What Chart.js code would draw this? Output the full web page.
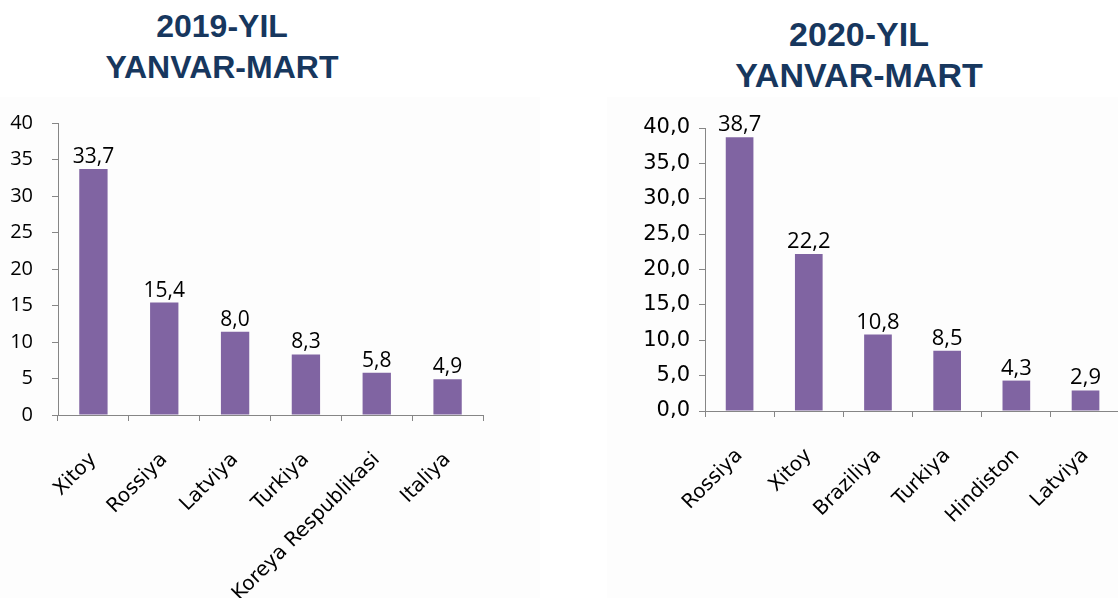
<!DOCTYPE html>
<html>
<head>
<meta charset="utf-8">
<script src="https://cdn.jsdelivr.net/npm/chart.js@4.4.1/dist/chart.umd.min.js"></script>
<style>
  html, body { margin: 0; padding: 0; background: #fff; }
  body { position: relative; width: 1118px; height: 598px; overflow: hidden; }
  .title {
    position: absolute;
    text-align: center;
    font-family: "Liberation Sans", Arial, sans-serif;
    font-weight: bold;
    color: #17375E;
  }
  #title1 { left: 0; width: 444px; top: 6px; font-size: 32px; line-height: 41px; }
  #title2 { left: 659px; width: 400px; top: 14px; font-size: 34px; line-height: 41px; }
  .panel { position: absolute; background: #fdfdfd; }
  canvas { position: absolute; }
</style>
</head>
<body>
<div class="panel" style="left:0;top:97px;width:540px;height:501px"></div>
<div class="panel" style="left:607px;top:97px;width:511px;height:501px"></div>
<div class="title" id="title1">2019-YIL<br>YANVAR-MART</div>
<div class="title" id="title2">2020-YIL<br>YANVAR-MART</div>
<canvas id="c2019" style="left:0;top:100px"></canvas>
<canvas id="c2020" style="left:600px;top:100px"></canvas>
<script>
// 2019 yanvar-mart
const countries2019 = ["Xitoy", "Rossiya", "Latviya", "Turkiya", "Koreya Respublikasi", "Italiya"];
const values2019 = [33.7, 15.4, 11.4, 8.3, 5.8, 4.9];   // bar heights as drawn
const labels2019 = ["33,7", "15,4", "8,0", "8,3", "5,8", "4,9"]; // texts printed above bars

// 2020 yanvar-mart
const countries2020 = ["Rossiya", "Xitoy", "Braziliya", "Turkiya", "Hindiston", "Latviya"];
const values2020 = [38.7, 22.2, 10.8, 8.5, 4.3, 2.9];
const labels2020 = ["38,7", "22,2", "10,8", "8,5", "4,3", "2,9"];

const yTicks = [0, 5, 10, 15, 20, 25, 30, 35, 40];

const BAR_COLOR = "#8064A2";
const AXIS_COLOR = "#868686";

const valueLabels = {
  id: "valueLabels",
  afterDatasetsDraw(chart, args, opts) {
    const { ctx } = chart;
    const meta = chart.getDatasetMeta(0);
    ctx.save();
    ctx.font = opts.size + 'px "Open Sans", sans-serif';
    ctx.fillStyle = "#000";
    ctx.textAlign = "center";
    ctx.textBaseline = "alphabetic";
    meta.data.forEach((bar, i) => {
      ctx.fillText(opts.texts[i], bar.x, bar.y - 6);
    });
    ctx.restore();
  },
};

function buildChart(id, cfg) {
  const canvas = document.getElementById(id);
  canvas.width = cfg.width;
  canvas.height = cfg.height;
  canvas.style.width = cfg.width + "px";
  canvas.style.height = cfg.height + "px";

  return new Chart(canvas, {
    type: "bar",
    data: {
      labels: cfg.categories,
      datasets: [
        {
          data: cfg.values,
          backgroundColor: BAR_COLOR,
          borderWidth: 0,
          categoryPercentage: 1,
          barPercentage: 0.4,
        },
      ],
    },
    options: {
      responsive: false,
      animation: false,
      events: [],
      layout: {
        autoPadding: false,
        padding: { left: 0, right: cfg.padRight, top: cfg.padTop, bottom: 0 },
      },
      scales: {
        x: {
          afterFit: (s) => { s.height = cfg.xHeight; },
          grid: {
            offset: true,
            drawOnChartArea: false,
            tickLength: 6,
            color: AXIS_COLOR,
          },
          border: { display: true, color: AXIS_COLOR, width: 1 },
          ticks: {
            autoSkip: false,
            maxRotation: 45,
            minRotation: 45,
            padding: 27,
            color: "#000",
            font: { family: "'DejaVu Sans', sans-serif", size: 20 },
          },
        },
        y: {
          min: 0,
          max: 40,
          afterFit: (s) => { s.width = cfg.yWidth; },
          afterBuildTicks: (s) => { s.ticks = yTicks.map((v) => ({ value: v })); },
          grid: {
            drawOnChartArea: false,
            tickLength: 6,
            color: AXIS_COLOR,
          },
          border: { display: true, color: AXIS_COLOR, width: 1 },
          ticks: {
            padding: cfg.yPad,
            color: "#000",
            // small lineHeight keeps the label padding from pushing the plot down
            font: { family: cfg.tickFamily, size: cfg.tickSize, lineHeight: 0.4 },
            callback: cfg.tickFormat,
          },
        },
      },
      plugins: {
        legend: { display: false },
        tooltip: { enabled: false },
        valueLabels: { texts: cfg.texts, size: cfg.labelSize },
      },
    },
    plugins: [valueLabels],
  });
}

buildChart("c2019", {
  width: 560, height: 498,
  categories: countries2019, values: values2019, texts: labels2019,
  padRight: 77, padTop: 23, xHeight: 183, yWidth: 58, yPad: 19,
  tickFamily: "'Open Sans', sans-serif", tickSize: 20, labelSize: 21,
  tickFormat: (v) => String(v),
});

buildChart("c2020", {
  width: 530, height: 498,
  categories: countries2020, values: values2020, texts: labels2020,
  padRight: 6, padTop: 28, xHeight: 187, yWidth: 105, yPad: 9,
  tickFamily: "'DejaVu Sans', sans-serif", tickSize: 21, labelSize: 22,
  tickFormat: (v) => v.toFixed(1).replace(".", ","),
});
</script>
</body>
</html>
